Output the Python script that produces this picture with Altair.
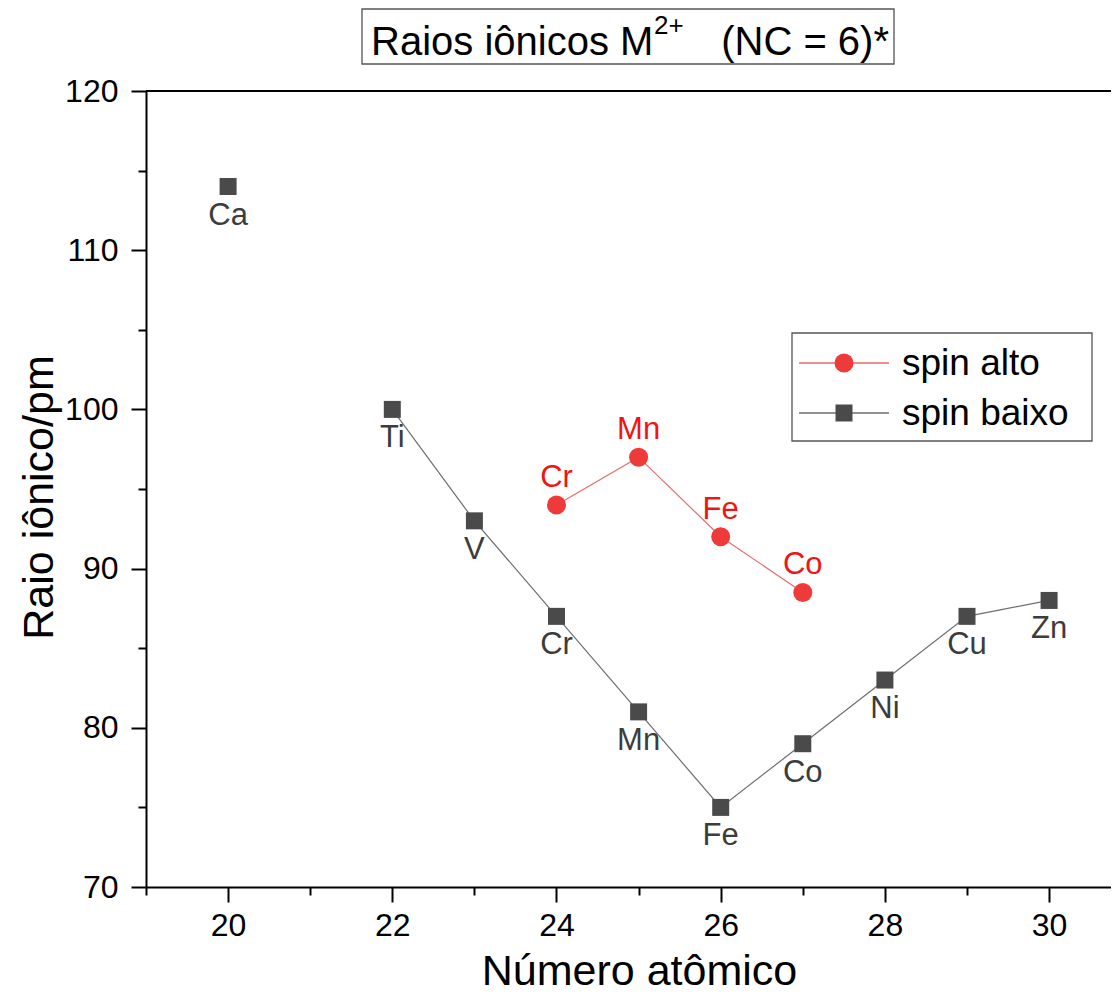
import altair as alt
import pandas as pd

# ---------------- data ----------------
series_names = ["spin alto", "spin baixo"]

elem_baixo = ["Ca", "Ti", "V", "Cr", "Mn", "Fe", "Co", "Ni", "Cu", "Zn"]
z_baixo = [20, 22, 23, 24, 25, 26, 27, 28, 29, 30]
r_baixo = [114, 100, 93, 87, 81, 75, 79, 83, 87, 88]

elem_alto = ["Cr", "Mn", "Fe", "Co"]
z_alto = [24, 25, 26, 27]
r_alto = [94, 97, 92, 88.5]

title_main = "Raios iônicos M"
title_sup = "2+"
title_rest = "(NC = 6)*"

x_title = "Número atômico"
y_title = "Raio iônico/pm"

x_ticks = list(range(19, 31))
y_ticks = list(range(70, 121, 5))

# ---------------- styling ----------------
FONT = "Liberation Sans"
RED_MARK = "#ef3a3a"
RED_LINE = "#e86a6a"
RED_TEXT = "#f01414"
GRAY_MARK = "#4a4a4a"
GRAY_LINE = "#6e6e6e"
GRAY_TEXT = "#3c3c3c"

W, H = 965, 796

df_b = pd.DataFrame({"Z": z_baixo, "R": r_baixo, "El": elem_baixo, "S": series_names[1]})
df_a = pd.DataFrame({"Z": z_alto, "R": r_alto, "El": elem_alto, "S": series_names[0]})

x_scale = alt.Scale(domain=[19, 30.754], nice=False, zero=False)
y_scale = alt.Scale(domain=[70, 120], nice=False, zero=False)

common_axis = dict(
    grid=False,
    domainColor="black",
    domainWidth=2,
    tickColor="black",
    tickWidth=2,
    labelFont=FONT,
    labelFontSize=32,
    labelColor="black",
    titleFont=FONT,
    titleFontSize=43,
    titleFontWeight="normal",
    titleColor="black",
    labelOverlap=False,
    labelFlush=False,
    format="d",
)

x_axis = alt.Axis(
    title=x_title,
    values=x_ticks,
    labelExpr="datum.value % 2 === 0 ? datum.label : ''",
    tickSize={"condition": {"test": "datum.value % 2 === 0", "value": 15}, "value": 8},
    labelPadding=8,
    titleX=493,
    titleY=97,
    titleAlign="center",
    titleBaseline="alphabetic",
    **common_axis,
)
y_axis = alt.Axis(
    title=y_title,
    values=y_ticks,
    labelExpr="datum.value % 10 === 0 ? datum.label : ''",
    tickSize={"condition": {"test": "datum.value % 10 === 0", "value": 15}, "value": 8},
    labelPadding=13,
    titleAngle=270,
    titleX=-94,
    titleY=406,
    titleAlign="center",
    titleBaseline="alphabetic",
    **common_axis,
)

X = alt.X("Z:Q", scale=x_scale, axis=x_axis)
Y = alt.Y("R:Q", scale=y_scale, axis=y_axis)
Xn = alt.X("Z:Q", scale=x_scale)
Yn = alt.Y("R:Q", scale=y_scale)

# ---------------- data marks ----------------
line_b = (
    alt.Chart(df_b)
    .transform_filter("datum.Z >= 22")
    .mark_line(color=GRAY_LINE, strokeWidth=1.2)
    .encode(x=X, y=Y, order="Z:Q")
)
pts_b = alt.Chart(df_b).mark_point(
    shape="square", filled=True, size=289, color=GRAY_MARK, opacity=1
).encode(x=Xn, y=Yn)
lab_b = alt.Chart(df_b).mark_text(
    font=FONT, fontSize=31, color=GRAY_TEXT, dy=38, baseline="alphabetic", align="center"
).encode(x=Xn, y=Yn, text="El:N")

line_a = alt.Chart(df_a).mark_line(color=RED_LINE, strokeWidth=1.2).encode(
    x=Xn, y=Yn, order="Z:Q"
)
pts_a = alt.Chart(df_a).mark_point(
    shape="circle", filled=True, size=361, color=RED_MARK, opacity=1
).encode(x=Xn, y=Yn)
lab_a = alt.Chart(df_a).mark_text(
    font=FONT, fontSize=31, color=RED_TEXT, dy=-18, baseline="alphabetic", align="center"
).encode(x=Xn, y=Yn, text="El:N")

# ---------------- frame (top edge) ----------------
one = alt.Data(values=[{"k": 0}])
top_rule = alt.Chart(one).mark_rule(color="black", strokeWidth=2).encode(
    x=alt.value(0), x2=alt.value(W), y=alt.value(0)
)

# ---------------- title box ----------------
title_box = alt.Chart(one).mark_rect(
    fill="white", stroke="#555555", strokeWidth=1.3
).encode(x=alt.value(216), x2=alt.value(748), y=alt.value(-82), y2=alt.value(-27))
t1 = alt.Chart(alt.Data(values=[{"t": title_main}])).mark_text(
    font=FONT, fontSize=40, color="black", align="left", baseline="alphabetic"
).encode(x=alt.value(225), y=alt.value(-36), text="t:N")
t2 = alt.Chart(alt.Data(values=[{"t": title_sup}])).mark_text(
    font=FONT, fontSize=26, color="black", align="left", baseline="alphabetic"
).encode(x=alt.value(508), y=alt.value(-57), text="t:N")
t3 = alt.Chart(alt.Data(values=[{"t": title_rest}])).mark_text(
    font=FONT, fontSize=40, color="black", align="right", baseline="alphabetic"
).encode(x=alt.value(743), y=alt.value(-36), text="t:N")

# ---------------- legend ----------------
leg_box = alt.Chart(one).mark_rect(
    fill="white", stroke="#555555", strokeWidth=1.3
).encode(x=alt.value(646), x2=alt.value(946), y=alt.value(242), y2=alt.value(350))


def legend_entry(name, y, line_color, mark_color, shape, size):
    d = alt.Data(values=[{"t": name}])
    r = alt.Chart(d).mark_rule(color=line_color, strokeWidth=1.3).encode(
        x=alt.value(653), x2=alt.value(743), y=alt.value(y)
    )
    p = alt.Chart(d).mark_point(
        shape=shape, filled=True, size=size, color=mark_color, opacity=1
    ).encode(x=alt.value(698), y=alt.value(y))
    t = alt.Chart(d).mark_text(
        font=FONT, fontSize=37, color="black", align="left", baseline="alphabetic"
    ).encode(x=alt.value(756), y=alt.value(y + 12), text="t:N")
    return [r, p, t]


leg_layers = legend_entry(series_names[0], 272, RED_LINE, RED_MARK, "circle", 361) + \
    legend_entry(series_names[1], 322, GRAY_LINE, GRAY_MARK, "square", 289)

chart = (
    alt.layer(
        line_b, pts_b, lab_b, line_a, pts_a, lab_a,
        top_rule, title_box, t1, t2, t3, leg_box, *leg_layers
    )
    .properties(
        width=W,
        height=H,
        autosize=alt.AutoSizeParams(type="none"),
        padding={"left": 138, "top": 83, "right": 0, "bottom": 107},
    )
    .configure_view(stroke=None)
    .configure(background="white")
)

chart.save("out.html", embed_options={"renderer": "svg", "actions": False})
